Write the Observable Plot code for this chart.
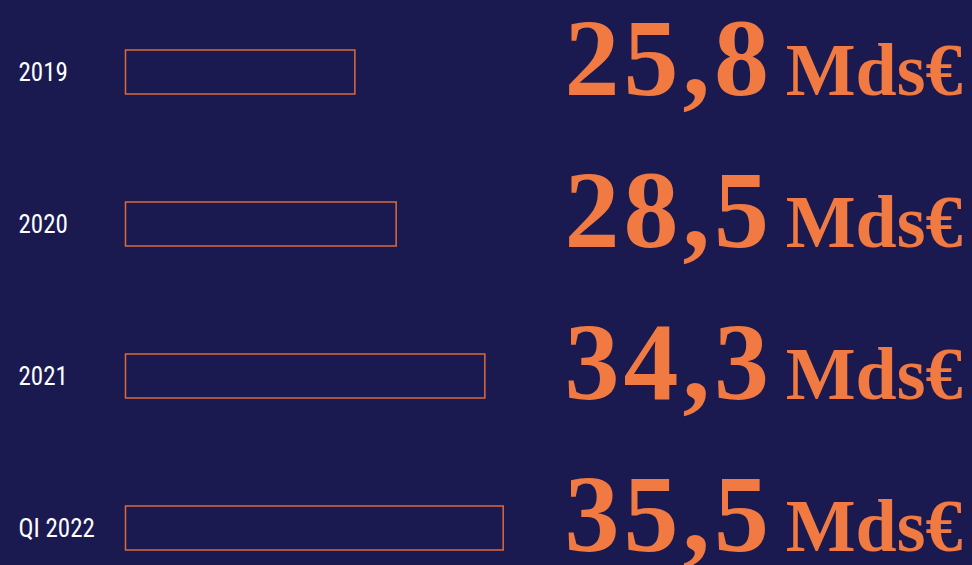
<!DOCTYPE html>
<html>
<head>
<meta charset="utf-8">
<script src="https://cdn.jsdelivr.net/npm/d3@7"></script>
<script src="https://cdn.jsdelivr.net/npm/@observablehq/plot@0.6"></script>
<style>
  html, body { margin: 0; padding: 0; background: #1b1a50; }
  #chart { width: 972px; height: 565px; overflow: hidden; }
</style>
</head>
<body>
<div id="chart"></div>
<script>
const years = ["2019", "2020", "2021", "QI 2022"];
const values = [25.8, 28.5, 34.3, 35.5];
const unitLabel = "Mds€";

const data = years.map((year, i) => ({year, value: values[i]}));

const BG = "#1b1a50";
const ORANGE = "#f07a41";
const STROKE = "#dc6a3b";
const X0 = 10.8;

const chart = Plot.plot({
  width: 972,
  height: 565,
  marginLeft: 125.5,
  marginRight: 400,
  marginTop: 0,
  marginBottom: 0,
  style: {background: BG, overflow: "visible"},
  x: {domain: [X0, 40], axis: null},
  y: {domain: years, range: [49, 551], paddingInner: 0.712, paddingOuter: 0, axis: null},
  marks: [
    Plot.barX(data, {y: "year", x1: () => X0, x2: "value", fill: BG, stroke: STROKE, strokeWidth: 1.5}),
    Plot.text(data, {
      y: "year", text: "year", frameAnchor: "left", textAnchor: "start", dx: -107.5,
      fill: "#ffffff", fontSize: 25,
      fontFamily: "'Liberation Sans Narrow', 'Roboto Condensed', 'DejaVu Sans Condensed', sans-serif"
    }),
    Plot.text(data, {
      y: "year", text: d => d.value.toFixed(1).replace(".", ","),
      frameAnchor: "right", textAnchor: "start", lineAnchor: "bottom", dx: -8, dy: 22,
      fill: ORANGE, fontSize: 110, fontWeight: "bold",
      fontFamily: "'Liberation Serif', 'DejaVu Serif', serif"
    }),
    Plot.text(data, {
      y: "year", text: () => unitLabel,
      frameAnchor: "right", textAnchor: "end", lineAnchor: "bottom", dx: 390, dy: 22,
      fill: ORANGE, fontSize: 74, fontWeight: "bold",
      fontFamily: "'Liberation Serif', 'DejaVu Serif', serif"
    })
  ]
});
const textGroups = chart.querySelectorAll('g[aria-label="text"]');
if (textGroups[1]) textGroups[1].setAttribute("letter-spacing", "4");
document.getElementById("chart").appendChild(chart);
</script>
</body>
</html>
